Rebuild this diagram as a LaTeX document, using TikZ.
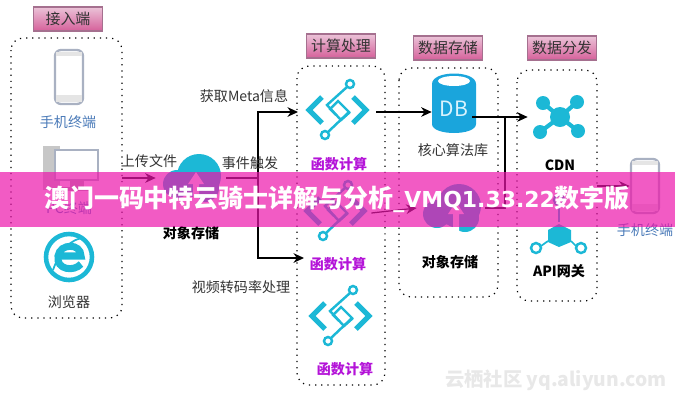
\documentclass[tikz,border=0pt]{standalone}
\usepackage{fontspec}
\setmainfont{Noto Sans CJK SC}
\newfontfamily\latinbold{DejaVu Sans}[Scale=0.88]
\usetikzlibrary{arrows.meta}
\definecolor{iconteal}{HTML}{1CB8D6}
\definecolor{dbblue}{HTML}{1AA5DC}
\definecolor{phonegray}{HTML}{A9B1C2}
\definecolor{labelblue}{HTML}{4A7AB8}
\definecolor{funcpurple}{HTML}{B414D8}
\definecolor{bannerpink}{RGB}{236,22,171}
\definecolor{tagtop}{HTML}{EBC3D8}
\definecolor{tagbottom}{HTML}{D5609A}
\definecolor{tagline}{HTML}{A5708F}
\tikzset{
  lab/.style={font=\fontsize{8}{10}\selectfont,text=black!80,inner sep=0pt},
  labbold/.style={font=\fontsize{8}{10}\selectfont\bfseries,text=black,inner sep=0pt},
  tagbox/.style={draw=tagline,line width=0.6pt,top color=tagtop,bottom color=tagbottom,
    minimum width=1.38cm,minimum height=0.48cm,inner sep=0pt,font=\fontsize{8.5}{10}\selectfont,text=black!80},
  groupbox/.style={dash pattern=on 0.7pt off 2.8pt,line width=0.7pt,rounded corners=0.24cm},
  flow/.style={line width=0.7pt,-{Stealth[length=6pt,width=5.5pt]}},
  flowline/.style={line width=0.7pt},
  slot/.style={inner sep=0pt,minimum height=0.6cm},
  pics/funcicon/.style={code={
    \draw[iconteal,line width=3pt] (-16,-13) -- (-29,0) -- (-16,13);
    \draw[iconteal,line width=3pt] (15,-13) -- (28,0) -- (15,13);
    \draw[iconteal,line width=1.4pt] (12,-26) circle (4);
    \draw[iconteal,line width=1.4pt] (-13,25) circle (4);
    \draw[iconteal,line width=1.4pt] (9,-23) -- (-11,-5) -- (3,10) -- (12,2);
    \draw[iconteal,line width=1.4pt] (-10,22) -- (11,2) -- (0,-9) -- (-8,-1) -- (-2,5);
  }},
  pics/phoneicon/.style={code={
    \draw[phonegray,fill=white,line width=1.3pt,rounded corners=0.12cm] (-14,-27) rectangle (14,27);
    \fill[black!10] (-13,-25) -- (13,-25) -- (13,-21) -- (-13,-21) -- cycle;
    \fill[black!10] (-13,18) -- (13,18) -- (13,25) -- (-13,25) -- cycle;
  }},
  pics/cloudicon/.style={code={
    \fill[iconteal] (8,-2) circle (22);
    \fill[iconteal] (-14,6) circle (14);
    \fill[iconteal] (14,10) circle (14);
    \fill[white] (5,-6) -- (13,6) -- (8,6) -- (8,26) -- (2,26) -- (2,6) -- (-3,6) -- cycle;
  }},
}
\begin{document}
\begin{tikzpicture}[x=0.02cm,y=-0.02cm]
    \useasboundingbox (0,0) rectangle (675,400);

    % Grupos
    \draw[groupbox] (11,38) rectangle (122,318);
    \draw[groupbox] (297,66) rectangle (385,385);
    \draw[groupbox] (399,68) rectangle (498,297);
    \draw[groupbox] (517,70) rectangle (597,301);

    \node[tagbox] (TagIn) at (68,19) {接入端};
    \node[tagbox] (TagCalc) at (341,46) {计算处理};
    \node[tagbox] (TagStore) at (448,48) {数据存储};
    \node[tagbox] (TagDist) at (562,48) {数据分发};

    % Acceso
    \pic at (69,77) {phoneicon};
    \node[lab,text=labelblue] (PhoneText) at (68,122) {手机终端};

    \fill[black!22] (43,146) rectangle (60,190);
    \draw[phonegray,fill=white,line width=1.4pt] (55,150) rectangle (98,180);
    \fill[black!30] (70,180) rectangle (84,187);
    \fill[black!30] (62,187) rectangle (92,191);
    \node[lab,text=labelblue] (PcText) at (69,208) {PC终端};

    \draw[iconteal,line width=2.6pt] (69,257) circle (23);
    \draw[iconteal,line width=4pt] (58,256) -- (81,256) .. controls (81,243) and (60,243) .. (58,256) .. controls (56,270) and (74,272) .. (81,264);
    \draw[iconteal,line width=1pt] (53,270) .. controls (60,250) and (72,238) .. (84,238);
    \node[lab] (IeText) at (69,302) {浏览器};

    % Almacenamiento
    \node[slot,minimum width=1.4cm] (ObjA) at (191,178) {};
    \pic at (ObjA) {cloudicon};
    \node[labbold] (ObjAText) at (191,233) {对象存储};
    \coordinate (Upload) at (122,178);
    \coordinate (Fork) at (258,178);
    \coordinate (CalcA) at (298,112);
    \coordinate (CalcB) at (304,258);

    \draw[flow] (Upload) -- (ObjA.west);
    \draw[flowline] (ObjA.east) -- (Fork);
    \draw[flow] (Fork) |- (CalcA);
    \draw[flow] (Fork) |- (CalcB);

    \node[lab] (UploadText) at (149,161) {上传文件};
    \node[lab] (EventText) at (250,163) {事件触发};
    \node[lab] (MetaText) at (244,96) {获取Meta信息};
    \node[lab] (VideoText) at (241,287) {视频转码率处理};

    % Funciones
    \node[slot,minimum width=1.52cm] (FuncA) at (338,112) {};
    \node[slot,minimum width=1.4cm] (FuncB) at (336,213) {};
    \pic at (338,110) {funcicon};
    \pic at (336,211) {funcicon};
    \pic at (341,316) {funcicon};
    \node[labbold,text=funcpurple] (FuncAText) at (339,164) {函数计算};
    \node[labbold,text=funcpurple] (FuncBText) at (338,264) {函数计算};
    \node[labbold,text=funcpurple] (FuncCText) at (345,369) {函数计算};

    % Base de datos
    \fill[dbblue] (432,84) .. controls (432,70) and (476,70) .. (476,84) -- (476,124) .. controls (476,136) and (432,136) .. (432,124) -- cycle;
    \fill[white] (454,81) circle[x radius=16,y radius=5];
    \node[slot,minimum width=0.88cm,text=cyan!15,font=\fontsize{12}{14}\selectfont] (DB) at (454,109) {DB};
    \node[lab] (DBText) at (453,150) {核心算法库};
    \coordinate (DBOut) at (472,117);
    \coordinate (DBFork) at (505,117);

    \node[slot,minimum width=1.36cm] (ObjB) at (451,208) {};
    \pic at (451,208) {cloudicon};
    \node[labbold] (ObjBText) at (450,262) {对象存储};

    % Distribucion
    \node[slot,minimum width=1.28cm] (CDN) at (560,117) {};
    \foreach \sx/\sy in {543/103,577/102,540/132,578/131} {
        \draw[iconteal,line width=2.4pt] (560,117) -- (\sx,\sy);
        \fill[iconteal] (\sx,\sy) circle (7);
    }
    \fill[iconteal] (560,117) circle (10);
    \node[labbold] (CDNText) at (560,165) {CDN};

    \fill[iconteal] (559,224) -- (571,230) -- (571,242) -- (559,247) -- (548,242) -- (548,230) -- cycle;
    \foreach \sx/\sy in {536/248,581/248,559/200} {
        \draw[iconteal,line width=1.4pt] (\sx,\sy) circle (5);
    }
    \draw[iconteal,line width=1pt] (541,246) -- (548,241);
    \draw[iconteal,line width=1pt] (576,246) -- (571,241);
    \draw[iconteal,line width=1pt] (559,205) -- (559,222);
    \node[labbold] (ApiText) at (559,271) {API网关};

    % Salida
    \coordinate (DistOut) at (597,186);
    \node[slot,minimum width=0.6cm] (PhoneB) at (645,186) {};
    \pic at (PhoneB) {phoneicon};
    \node[lab,text=labelblue] (PhoneBText) at (645,230) {手机终端};

    \draw[flow] (FuncA.east) -- (FuncA.east -| DB.west);
    \draw[flow] (DBOut) -- (CDN.west);
    \draw[flowline] (DBFork) |- (ObjB.east);
    \draw[flow] (FuncB.east) -- (ObjB.west);
    \draw[flow] (DistOut) -- (PhoneB.west);

    % Marca de agua
    \node[inner sep=0pt,text=black!9,font=\fontsize{11}{14}\selectfont\bfseries] (Mark) at (556,380) {云栖社区 yq.aliyun.com};

    % Banda
    \fill[bannerpink,fill opacity=0.7] (0,172) rectangle (675,227);
    \node[inner sep=0pt,text=white,font=\fontsize{14.2}{17}\selectfont\bfseries] (Title) at (337,199) {澳门一码中特云骑士详解与分析{\latinbold\bfseries \_VMQ1.33.22}数字版};
\end{tikzpicture}
\end{document}
